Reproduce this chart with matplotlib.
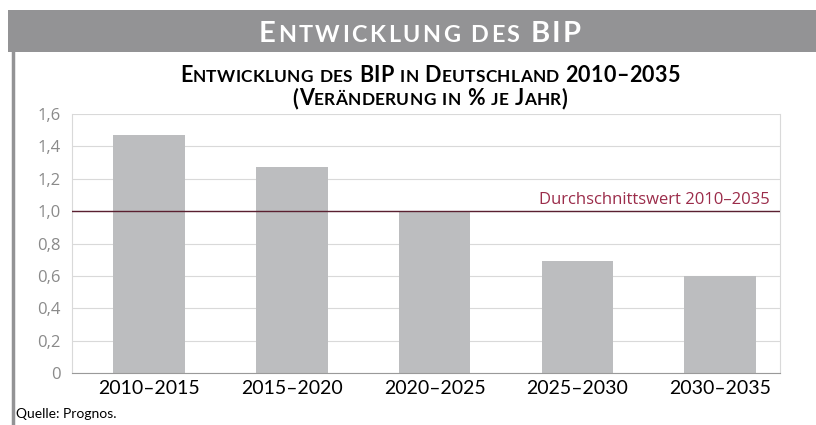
import matplotlib
matplotlib.use("Agg")
import matplotlib.pyplot as plt
from matplotlib import font_manager
from matplotlib.patches import Rectangle
from matplotlib.lines import Line2D

# Daten
zeitraeume = ["2010–2015", "2015–2020", "2020–2025", "2025–2030", "2030–2035"]
bip_veraenderung = [1.47, 1.27, 1.00, 0.69, 0.60]
durchschnitt = 1.0
y_ticks = [0, 0.2, 0.4, 0.6, 0.8, 1.0, 1.2, 1.4, 1.6]
y_labels = ["0", "0,2", "0,4", "0,6", "0,8", "1,0", "1,2", "1,4", "1,6"]

# Schrift wählen
verfuegbar = {f.name for f in font_manager.fontManager.ttflist}
schrift = next((n for n in ["Lato", "Open Sans", "Roboto"] if n in verfuegbar), "DejaVu Sans")
normal = "Open Sans" if "Open Sans" in verfuegbar else "DejaVu Sans"

W, H, DPI = 816, 425, 100
fig = plt.figure(figsize=(W / DPI, H / DPI), dpi=DPI)
renderer = fig.canvas.get_renderer()


def kapitaelchen(x_px, y_px, text, size, ratio=0.8, color="black", weight="bold", sperrung=0.0):
    # Kapitälchen nachbauen: jedes Zeichen einzeln, Kleinbuchstaben als kleinere Großbuchstaben
    objs = []
    total = 0
    for ch in text:
        if ch == " ":
            w = size * 0.28 * DPI / 72
            objs.append((None, w))
        else:
            klein = ch.islower()
            t = fig.text(0, 0, ch.upper(), fontsize=size * (ratio if klein else 1.0), family=schrift,
                         weight=weight, color=color, va="baseline", ha="left")
            w = t.get_window_extent(renderer).width + sperrung
            objs.append((t, w))
        total += w
    x = x_px - total / 2
    for t, w in objs:
        if t is not None:
            t.set_position((x / W, 1 - y_px / H))
        x += w


# Kopfbalken
fig.patches.append(Rectangle((8 / W, 1 - 52 / H), 1, 42 / H, transform=fig.transFigure,
                             facecolor="#939395", edgecolor="none"))
fig.lines.append(Line2D([12.5 / W, 12.5 / W], [0, 1 - 52 / H], transform=fig.transFigure,
                        color="#939395", linewidth=2.5))
kapitaelchen(421, 42, "Entwicklung des BIP", 21, color="white", weight="bold", sperrung=2.5)

# Diagrammtitel
kapitaelchen(430, 82, "Entwicklung des BIP in Deutschland 2010–2035", 15.5, sperrung=0.3)
kapitaelchen(430, 105, "(Veränderung in % je Jahr)", 15.5, sperrung=0.3)

ax = fig.add_axes([72 / W, 1 - 373 / H, 708 / W, 259 / H])
x = range(len(zeitraeume))
ax.bar(x, bip_veraenderung, width=0.5, color="#bcbdbf", zorder=2)
ax.axhline(durchschnitt, color="#5a2030", linewidth=1, zorder=3)
ax.text(4.35, durchschnitt + 0.02, "Durchschnittswert 2010–2035", color="#9b2c4a",
        fontsize=12, family=normal, ha="right", va="bottom")

ax.set_xlim(-0.54, 4.42)
ax.set_ylim(0, 1.6)
ax.set_yticks(y_ticks)
ax.set_yticklabels(y_labels, color="#8a8a8a", fontsize=12, family=normal)
ax.set_xticks(list(x))
ax.set_xticklabels(zeitraeume, fontsize=14, family=schrift)
ax.tick_params(axis="both", length=0, pad=5)
ax.tick_params(axis="y", pad=8)
ax.grid(axis="y", color="#d9d9d9", linewidth=0.8, zorder=0)
for s in ["left", "right", "top"]:
    ax.spines[s].set_color("#d9d9d9")
ax.spines["top"].set_visible(False)
ax.spines["bottom"].set_color("#9a9a9a")

fig.text(16 / W, 1 - 418 / H, "Quelle: Prognos.", fontsize=10, family=schrift, ha="left", va="baseline")

fig.savefig("out.png", dpi=DPI)
